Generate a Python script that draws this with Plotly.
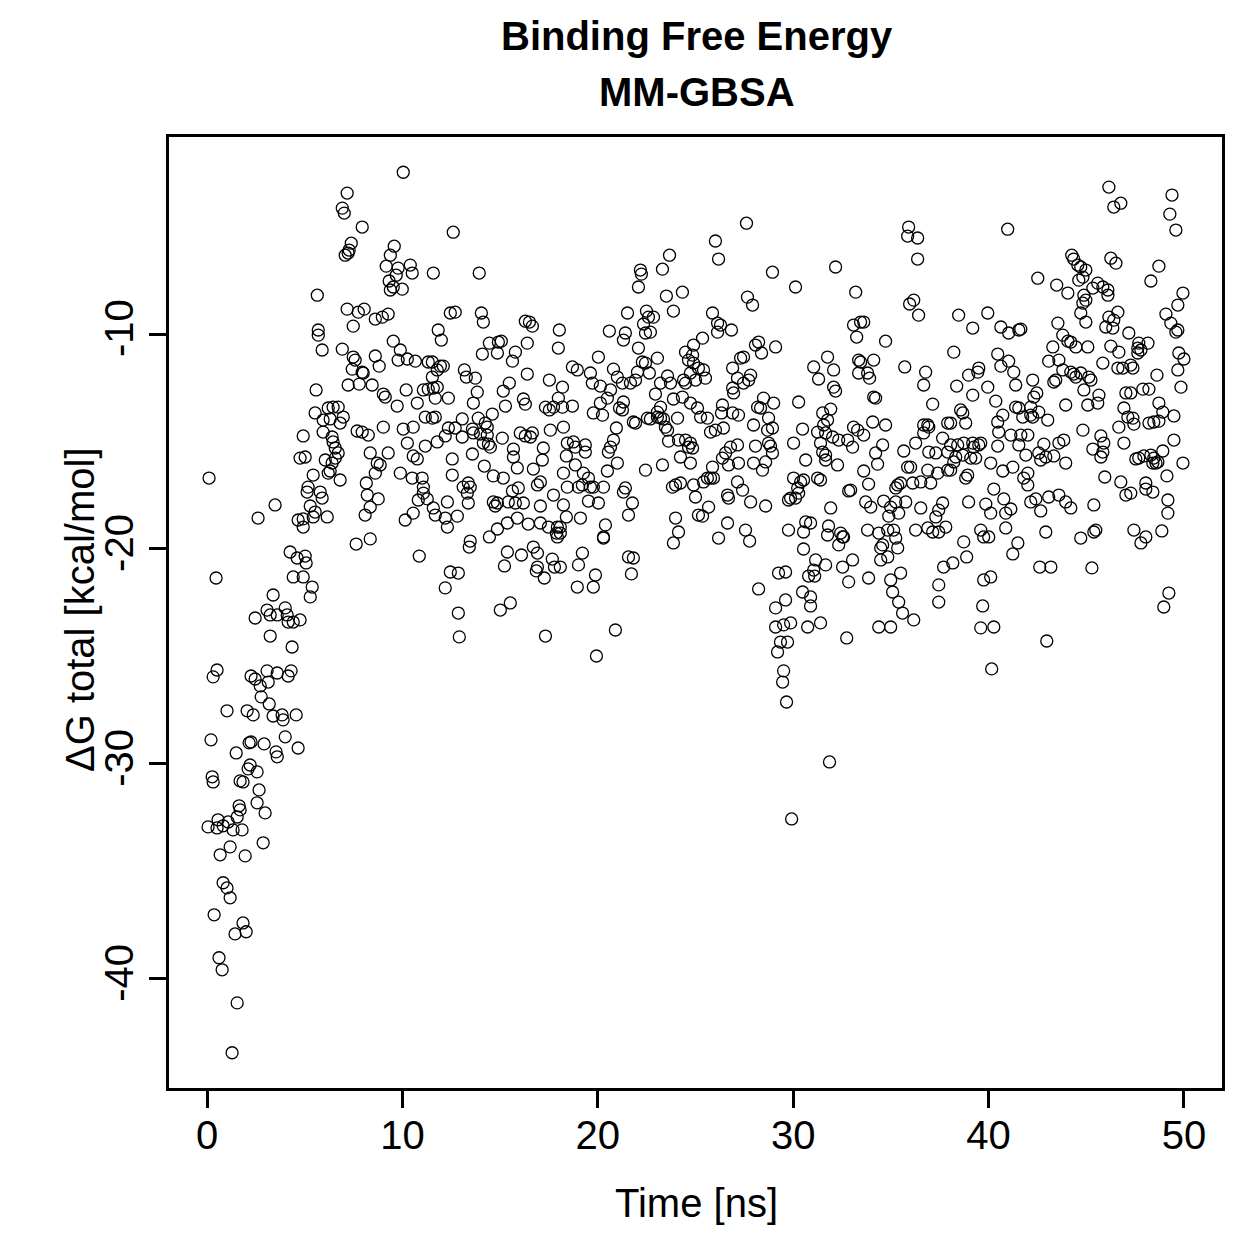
import plotly.graph_objects as go

# (time [ns], dG total [kcal/mol]), grouped by time window
seg_0_5 = [
    (2.46,-23.21),(3.07,-22.84),(3.23,-23.07),(3.59,-23.07),(4.00,-22.74),(4.10,-23.07),(4.15,-23.40),(4.41,-23.40),(3.23,-24.05),(4.35,-24.56),
    (0.51,-25.63),(0.31,-25.95),(2.25,-25.91),(2.46,-26.05),(3.07,-25.67),(3.59,-25.77),(4.30,-25.67),(4.15,-25.91),(3.13,-26.19),(2.72,-26.37),
    (2.77,-26.88),(3.18,-27.21),(3.38,-27.77),(3.84,-27.72),(3.89,-27.95),(4.56,-27.72),(1.02,-27.53),(2.05,-27.53),(2.36,-27.72),(0.20,-28.88),
    (1.49,-29.49),(2.15,-29.02),(2.25,-28.98),(2.92,-29.07),(3.53,-29.44),(3.59,-29.67),(4.00,-28.74),(4.66,-29.26),(0.26,-30.60),(0.31,-30.84),
    (1.69,-30.79),(1.84,-30.84),(2.20,-30.05),(2.10,-30.23),(2.56,-30.37),(2.66,-31.21),(2.56,-31.81),(2.97,-32.28),(1.64,-31.95),(1.69,-32.14),
    (1.54,-32.47),(0.56,-32.60),(0.05,-32.93),(0.51,-32.98),(0.82,-32.88),(1.08,-32.70),(1.33,-33.07),(1.79,-33.07),(0.67,-34.23),(1.18,-33.86),
    (1.95,-34.28),(2.87,-33.67),(0.82,-35.53),(1.02,-35.77),(1.18,-36.23),(0.36,-37.02),(1.84,-37.40),(2.00,-37.81),(1.43,-37.91),(0.61,-39.02),
    (0.77,-39.58),(1.54,-41.12),(1.28,-43.44),
    (0.10,-16.70),(3.48,-17.95),(2.61,-18.56),(4.66,-18.65),(4.25,-20.14),(4.61,-20.42),(4.41,-21.30),(3.38,-22.14),(0.46,-21.35),
]

seg_5_11 = [
    (10.04,-2.47),(7.17,-3.44),(6.92,-4.14),(7.02,-4.37),(7.94,-5.02),(7.38,-5.77),(7.27,-6.09),(7.07,-6.33),(7.22,-6.23),(9.58,-5.91),
    (9.38,-6.33),(9.17,-6.84),(9.78,-6.93),(10.40,-6.79),(10.50,-7.16),(9.68,-7.26),(9.32,-7.53),(9.53,-7.81),(9.38,-7.95),(9.99,-7.91),
    (5.64,-8.19),(7.17,-8.84),(7.74,-8.98),(8.04,-8.84),(7.48,-9.63),(8.61,-9.30),(8.97,-9.21),(9.27,-9.07),(5.69,-9.81),(5.69,-10.05),
    (5.89,-10.74),(6.92,-10.70),(7.48,-11.07),(7.58,-11.21),(9.53,-10.33),(9.89,-10.74),(9.78,-11.21),(10.25,-11.16),(10.66,-11.26),(11.32,-11.30),
    (8.61,-11.02),(8.81,-11.49),(7.43,-11.63),(7.94,-11.77),(7.99,-11.81),(7.22,-12.37),(7.79,-12.33),(8.45,-12.37),(9.02,-12.79),(9.12,-12.93),
    (9.73,-13.35),(5.58,-12.60),(10.19,-12.60),(10.76,-13.21),(11.07,-12.60),(11.32,-12.56),(6.20,-13.44),(6.45,-13.40),(6.71,-13.40),(5.53,-13.67),
    (5.94,-14.00),(6.30,-13.95),(6.97,-13.86),(6.81,-14.14),(11.17,-13.86),(9.02,-14.33),(7.68,-14.51),(7.94,-14.56),(8.25,-14.70),(10.04,-14.42),
    (10.55,-14.33),(4.92,-14.74),(5.94,-14.56),(6.40,-14.79),(6.45,-15.02),(6.56,-15.30),(6.71,-15.53),(6.56,-15.77),(10.25,-15.07),(11.17,-15.21),
    (8.35,-15.53),(9.27,-15.53),(5.02,-15.72),(4.76,-15.77),(6.05,-15.86),(6.40,-16.00),(6.30,-16.37),(6.20,-16.47),(8.71,-16.00),(8.86,-16.09),
    (10.55,-15.67),(10.76,-15.81),(8.61,-16.47),(8.15,-16.93),(8.20,-17.49),(8.35,-18.05),(8.09,-18.42),(8.76,-17.67),(6.81,-16.79),(5.43,-16.56),
    (5.17,-17.12),(5.12,-17.35),(5.79,-17.35),(5.89,-17.63),(5.28,-18.00),(5.53,-18.28),(5.43,-18.51),(6.15,-18.51),(4.92,-18.60),(4.92,-18.98),
    (9.89,-16.47),(10.50,-16.70),(11.01,-16.70),(11.07,-17.12),(11.07,-17.40),(10.81,-17.72),(11.27,-17.67),(10.55,-18.33),(10.14,-18.65),(7.63,-19.77),
    (8.35,-19.53),(10.86,-20.33),(5.02,-20.33),(5.07,-20.65),(4.92,-21.30),(5.38,-21.77),(5.28,-22.23),(4.76,-23.30),
]

seg_11_18 = [
    (12.60,-5.26),(11.58,-7.16),(13.93,-7.16),(12.45,-9.02),(12.70,-8.98),(14.04,-9.02),(14.14,-9.44),(16.29,-9.40),(16.50,-9.44),(16.65,-9.63),
    (18.03,-9.81),(17.98,-10.65),(11.83,-9.81),(11.99,-10.28),(14.45,-10.42),(14.91,-10.37),(15.06,-10.33),(14.86,-10.88),(14.09,-10.93),(15.78,-10.84),
    (15.63,-11.26),(16.39,-10.42),(11.53,-11.30),(11.94,-11.49),(12.09,-11.49),(11.78,-11.67),(13.17,-11.67),(13.27,-12.00),(13.73,-12.05),(16.39,-11.86),
    (17.52,-12.14),(18.19,-12.47),(17.98,-12.98),(18.19,-13.40),(17.32,-13.40),(17.52,-13.53),(17.73,-13.40),(11.53,-12.00),(11.58,-12.51),(11.78,-12.47),
    (11.68,-12.98),(12.35,-12.98),(13.83,-12.70),(13.63,-13.21),(15.47,-12.28),(15.16,-12.65),(15.27,-13.35),(16.19,-13.02),(16.29,-13.26),(14.60,-13.72),
    (13.06,-13.95),(13.88,-13.91),(14.24,-14.14),(14.34,-14.33),(11.53,-13.91),(11.68,-13.86),(18.24,-14.33),(17.57,-14.47),(12.35,-14.37),(12.70,-14.37),
    (13.06,-14.79),(13.58,-14.42),(13.99,-14.65),(13.63,-14.60),(14.34,-14.70),(14.40,-15.12),(14.50,-15.26),(14.14,-15.07),(15.11,-14.84),(16.03,-14.60),
    (16.29,-14.74),(16.55,-14.79),(16.65,-14.60),(11.78,-15.02),(12.19,-14.74),(15.68,-15.35),(15.68,-15.72),(15.88,-16.23),(17.21,-15.30),(17.16,-15.86),
    (18.44,-15.07),(18.39,-15.67),(12.55,-15.81),(12.55,-16.56),(13.58,-15.58),(14.19,-16.14),(14.65,-16.60),(15.16,-16.70),(16.70,-16.28),(18.24,-16.47),
    (17.06,-16.88),(16.91,-17.02),(13.11,-17.12),(13.37,-16.93),(13.47,-17.12),(13.32,-17.40),(13.37,-17.86),(15.63,-17.30),(15.93,-17.16),(17.73,-17.49),
    (18.44,-17.12),(12.30,-17.81),(11.58,-18.09),(11.68,-18.42),(14.65,-17.81),(14.75,-18.00),(14.86,-17.86),(15.42,-17.81),(15.78,-17.86),(16.19,-17.86),
    (17.06,-18.00),(18.24,-17.95),(18.39,-18.51),(12.81,-18.47),(12.19,-18.56),(12.30,-18.98),(15.88,-18.56),(15.37,-18.79),(14.86,-19.07),(14.45,-19.44),
    (16.44,-18.84),(17.06,-18.79),(17.47,-18.98),(17.93,-18.98),(17.88,-19.26),(17.93,-19.44),(13.47,-19.63),(13.42,-19.91),(15.37,-20.14),(16.09,-20.28),
    (15.22,-20.79),(16.70,-19.91),(16.91,-20.19),(16.91,-20.84),(16.85,-21.02),(17.26,-21.35),(17.67,-20.47),(17.78,-20.84),(12.45,-21.07),(12.86,-21.12),
    (12.19,-21.81),(12.86,-22.98),(15.01,-22.84),(15.52,-22.51),(12.91,-24.09),(17.32,-24.05),
]

seg_18_25 = [
    (23.67,-6.33),(22.18,-7.02),(22.23,-7.21),(22.08,-7.81),(23.31,-6.98),(23.51,-8.23),(24.33,-8.05),(23.87,-8.93),(21.52,-9.02),(22.49,-8.93),
    (22.85,-9.21),(22.59,-9.21),(22.34,-9.53),(22.44,-9.95),(22.69,-9.91),(20.59,-9.86),(21.31,-10.28),(21.41,-9.95),(22.08,-10.65),(20.03,-11.07),
    (24.49,-10.84),(24.64,-11.21),(24.85,-10.98),(18.70,-11.53),(18.95,-11.67),(19.62,-11.81),(19.72,-12.28),(20.13,-12.42),(20.80,-11.63),(21.00,-12.00),
    (21.26,-12.28),(22.28,-11.30),(22.44,-11.35),(23.05,-11.12),(22.64,-11.81),(22.03,-11.77),(21.93,-12.14),(21.67,-12.28),(23.57,-11.95),(23.72,-12.28),
    (23.21,-12.28),(24.39,-12.14),(24.49,-12.28),(22.95,-12.79),(20.65,-12.60),(20.49,-12.98),(20.13,-13.21),(19.77,-13.67),(20.24,-13.77),(21.31,-13.16),
    (21.26,-13.53),(21.11,-13.44),(23.87,-13.02),(24.33,-12.93),(18.70,-13.35),(23.21,-13.40),(23.05,-13.63),(23.05,-13.86),(23.21,-13.91),(23.36,-13.95),
    (22.69,-13.95),(22.54,-13.91),(23.46,-14.33),(23.57,-14.47),(24.08,-13.91),(21.82,-14.09),(21.93,-14.14),(20.95,-14.37),(20.80,-14.93),(20.65,-15.26),
    (20.54,-15.49),(23.62,-14.98),(24.13,-14.93),(24.49,-14.93),(24.64,-15.26),(24.23,-15.72),(18.75,-15.02),(18.85,-15.26),(19.36,-15.16),(19.36,-15.49),
    (18.85,-16.09),(21.00,-16.00),(20.49,-16.37),(22.44,-16.33),(23.31,-16.09),(19.26,-16.47),(19.52,-16.70),(19.21,-17.02),(19.62,-17.12),(19.77,-17.12),
    (20.29,-17.12),(19.01,-17.12),(23.82,-17.12),(23.98,-17.02),(24.23,-16.93),(21.41,-17.16),(21.31,-17.35),(21.77,-17.86),(21.57,-18.42),(19.52,-17.77),
    (20.03,-17.86),(19.11,-18.56),(18.08,-18.98),(18.08,-19.26),(23.98,-18.56),(24.13,-19.21),(23.87,-19.72),(20.39,-18.88),(20.29,-19.44),(20.29,-19.49),
    (25.15,-18.42),(19.21,-20.19),(19.01,-20.74),(21.57,-20.37),(21.82,-20.42),(21.72,-21.16),(19.88,-21.21),(19.77,-21.77),(18.95,-21.77),(18.08,-20.84),
    (20.90,-23.77),(19.93,-24.98),
]

seg_25_32 = [
    (27.61,-4.84),(26.02,-5.67),(26.18,-6.51),(28.94,-7.12),(30.12,-7.81),(27.66,-8.28),(27.92,-8.65),(25.87,-9.02),(26.13,-9.49),(26.28,-9.58),
    (26.13,-9.91),(26.84,-9.81),(25.36,-10.19),(24.90,-10.51),(28.07,-10.51),(28.23,-10.37),(28.38,-10.88),(29.10,-10.60),(27.31,-11.12),(27.46,-11.07),
    (26.90,-11.58),(24.90,-11.35),(25.15,-11.58),(25.41,-11.67),(25.51,-12.05),(25.00,-12.14),(24.74,-11.81),(27.82,-11.91),(27.72,-12.14),(27.46,-12.28),
    (27.15,-12.05),(26.90,-12.51),(26.95,-12.74),(31.05,-11.53),(31.30,-12.09),(28.48,-12.98),(29.00,-13.21),(28.18,-13.40),(28.33,-13.44),(30.28,-13.16),
    (25.10,-13.44),(25.26,-13.86),(25.61,-13.91),(26.38,-13.30),(26.33,-13.67),(26.90,-13.67),(27.20,-13.77),(24.74,-13.21),(28.74,-13.91),(28.69,-14.47),
    (28.94,-14.37),(27.97,-14.23),(25.77,-14.56),(26.02,-14.47),(26.43,-14.37),(30.48,-14.42),(31.25,-14.56),(31.76,-14.00),(24.74,-15.07),(24.85,-15.30),
    (28.74,-15.07),(28.84,-15.21),(28.94,-15.53),(28.59,-15.95),(28.43,-16.33),(28.07,-15.21),(27.97,-16.00),(27.15,-15.16),(26.79,-15.26),(26.54,-15.53),
    (26.38,-15.77),(26.69,-16.09),(27.20,-16.00),(30.02,-15.07),(30.64,-15.86),(31.51,-15.49),(24.74,-16.00),(24.90,-17.02),(25.00,-17.58),(25.87,-16.19),
    (25.61,-16.70),(25.41,-16.88),(25.77,-16.70),(25.92,-16.70),(27.15,-16.88),(27.41,-17.26),(26.64,-17.49),(26.69,-17.63),(27.82,-17.81),(28.59,-18.00),
    (30.02,-16.70),(30.38,-16.88),(30.53,-16.79),(30.23,-17.16),(30.28,-17.40),(29.87,-17.63),(29.76,-17.72),(30.12,-17.63),(31.25,-16.70),(25.67,-18.05),
    (25.36,-18.47),(26.64,-18.79),(26.18,-19.49),(27.56,-19.12),(27.77,-19.63),(29.76,-19.12),(30.64,-18.74),(30.89,-18.79),(30.53,-19.21),(30.53,-20.00),
    (31.76,-19.35),(31.15,-20.51),(31.05,-20.98),(29.25,-21.12),(29.61,-21.07),(30.79,-21.26),(31.10,-21.26),(28.23,-21.86),(30.48,-22.00),(30.89,-22.23),
    (30.89,-22.65),(29.61,-22.37),(29.10,-22.74),(29.10,-23.63),(29.51,-23.53),(29.87,-23.44),(30.74,-23.63),(31.40,-23.44),(29.35,-24.33),(29.71,-24.33),
    (29.20,-24.79),(29.51,-25.67),(29.46,-26.19),(29.66,-27.12),(31.86,-29.91),(29.92,-32.56),(32.74,-24.14),
]

seg_32_38 = [
    (35.91,-5.02),(35.86,-5.44),(36.37,-5.53),(36.37,-6.51),(32.17,-6.88),(33.20,-8.05),(35.96,-8.60),(36.17,-8.42),(36.42,-9.12),(33.09,-9.58),
    (33.45,-9.44),(33.61,-9.44),(33.25,-10.14),(34.73,-10.33),(31.76,-11.07),(32.07,-11.67),(33.35,-11.21),(33.45,-11.30),(34.12,-11.21),(33.35,-11.81),
    (33.81,-11.81),(33.91,-12.05),(34.12,-12.93),(34.22,-12.98),(35.71,-11.53),(36.78,-11.77),(36.68,-12.37),(32.07,-12.47),(32.17,-12.65),(37.14,-13.26),
    (31.92,-13.49),(31.51,-13.67),(31.56,-14.23),(31.66,-14.60),(34.07,-14.09),(34.73,-14.23),(33.09,-14.33),(33.30,-14.47),(33.61,-14.70),(32.79,-14.93),
    (33.04,-15.26),(32.02,-14.79),(32.33,-14.93),(36.68,-14.23),(36.89,-14.23),(36.94,-14.33),(36.68,-14.60),(37.91,-14.14),(34.58,-15.16),(34.22,-15.53),
    (34.32,-16.05),(31.40,-15.07),(31.66,-15.63),(31.66,-15.86),(32.27,-16.09),(35.66,-15.44),(36.27,-15.07),(36.94,-15.49),(37.30,-15.53),(37.65,-14.84),
    (37.91,-15.49),(33.61,-16.37),(33.86,-16.98),(32.94,-17.26),(32.84,-17.30),(35.86,-16.19),(36.01,-16.19),(36.89,-16.33),(37.40,-16.47),(37.91,-16.33),
    (36.12,-16.93),(36.53,-16.88),(37.04,-16.93),(35.35,-17.02),(35.50,-16.93),(35.25,-17.16),(31.40,-16.79),(33.71,-17.81),(33.97,-18.05),(34.63,-17.77),
    (34.99,-18.05),(34.89,-18.47),(35.40,-18.33),(35.25,-17.81),(35.76,-17.81),(31.92,-18.09),(36.53,-18.09),(37.30,-18.51),(37.45,-18.19),(37.65,-17.86),
    (37.81,-18.98),(36.89,-19.02),(37.14,-19.21),(37.45,-19.21),(31.81,-18.93),(32.43,-19.26),(32.53,-19.44),(32.58,-19.44),(32.33,-19.81),(33.81,-19.12),
    (34.38,-19.26),(34.48,-19.95),(34.58,-19.81),(34.84,-19.12),(35.14,-19.12),(35.25,-19.49),(35.35,-19.95),(34.84,-20.37),(34.48,-20.51),(36.27,-19.12),
    (31.66,-20.74),(32.53,-20.84),(33.04,-20.51),(32.84,-21.53),(33.86,-21.35),(34.99,-21.44),(35.09,-22.00),(35.50,-21.12),(35.40,-22.47),(35.60,-22.98),
    (36.17,-23.30),(37.45,-21.67),(37.45,-22.47),(37.70,-20.84),(34.38,-23.63),(34.99,-23.63),
]

seg_38_45 = [
    (40.98,-5.12),(42.52,-7.40),(43.49,-7.72),(44.06,-8.09),(44.26,-6.33),(44.36,-6.51),(44.57,-6.79),(44.62,-7.49),(38.47,-9.12),(39.96,-9.02),
    (39.19,-9.72),(40.63,-9.67),(41.03,-9.95),(41.65,-9.77),(41.55,-9.81),(43.55,-9.49),(43.80,-10.05),(44.06,-10.33),(44.21,-10.37),(44.47,-10.60),
    (43.29,-10.60),(43.08,-11.26),(43.60,-11.21),(43.80,-11.67),(43.44,-12.14),(43.34,-12.23),(44.21,-11.77),(44.36,-11.86),(44.47,-12.00),(40.47,-10.93),
    (40.63,-11.49),(41.03,-11.26),(41.29,-11.77),(41.39,-12.37),(38.22,-10.84),(38.98,-11.91),(39.45,-11.77),(39.50,-11.58),(38.37,-12.42),(39.19,-12.84),
    (39.96,-12.47),(42.26,-12.14),(42.47,-12.74),(42.32,-12.93),(42.16,-13.40),(40.37,-13.12),(43.95,-13.30),(38.57,-13.53),(38.68,-13.67),(38.83,-14.14),
    (38.06,-14.14),(41.39,-13.40),(41.55,-13.44),(41.75,-13.86),(40.73,-13.77),(40.47,-14.09),(40.52,-14.56),(42.16,-13.77),(42.26,-13.86),(42.57,-13.63),
    (43.03,-14.00),(41.14,-14.70),(41.65,-14.70),(42.01,-14.70),(38.06,-15.16),(38.42,-15.16),(38.73,-15.07),(39.19,-15.07),(39.50,-15.16),(39.60,-15.07),
    (38.32,-15.72),(38.22,-15.95),(38.68,-15.63),(39.09,-15.77),(39.34,-15.77),(39.24,-15.26),(40.47,-15.21),(41.55,-15.16),(41.91,-15.63),(40.11,-16.00),
    (40.73,-16.37),(41.24,-16.19),(42.01,-16.47),(41.80,-16.70),(42.01,-17.02),(42.57,-15.53),(42.83,-15.12),(42.93,-15.72),(43.34,-15.67),(43.60,-15.07),
    (43.85,-14.93),(43.95,-16.00),(42.67,-15.86),(38.06,-16.33),(38.83,-16.70),(38.93,-16.56),(40.27,-17.21),(40.78,-17.67),(38.98,-17.81),(39.86,-17.91),
    (40.11,-18.33),(40.88,-18.33),(41.14,-18.14),(40.88,-19.02),(42.16,-17.81),(42.42,-17.67),(42.67,-18.23),(43.08,-17.58),(43.60,-17.49),(43.95,-17.81),
    (44.21,-18.09),(39.60,-19.12),(39.75,-19.44),(40.01,-19.44),(38.73,-19.67),(38.88,-20.37),(38.17,-20.65),(41.50,-19.72),(41.24,-20.23),(42.93,-19.21),
    (42.62,-20.84),(43.19,-20.84),(39.75,-21.44),(40.11,-21.30),(39.70,-22.65),(39.60,-23.67),(40.27,-23.63),(40.16,-25.58),(42.98,-24.28),
]

seg_45_50 = [
    (46.16,-3.16),(46.41,-4.09),(46.77,-3.91),(49.39,-3.53),(49.28,-4.42),(49.59,-5.16),(46.26,-6.47),(46.52,-6.70),(48.72,-6.84),(48.31,-7.53),
    (44.72,-6.88),(44.98,-7.02),(44.83,-7.35),(45.59,-7.63),(45.34,-7.86),(45.85,-7.81),(46.11,-7.95),(46.11,-8.19),(44.88,-8.19),(44.98,-8.42),
    (44.83,-8.56),(44.98,-9.44),(44.72,-9.02),(49.95,-8.09),(49.69,-8.65),(49.08,-9.07),(49.33,-9.49),(49.59,-9.91),(49.69,-9.81),(46.16,-9.21),
    (46.62,-8.98),(46.41,-9.35),(46.00,-9.67),(46.36,-9.72),(47.18,-9.95),(45.08,-10.60),(46.26,-10.56),(46.67,-10.84),(47.69,-10.42),(48.16,-10.42),
    (47.64,-10.65),(47.80,-10.74),(47.64,-10.88),(49.74,-10.88),(50.00,-11.16),(49.69,-11.67),(45.85,-11.35),(46.62,-11.58),(46.87,-11.58),(47.28,-11.44),
    (47.39,-11.58),(48.62,-11.91),(44.72,-11.81),(45.13,-12.00),(45.24,-12.14),(44.88,-12.60),(45.08,-13.30),(45.59,-13.21),(45.65,-12.84),(49.85,-12.47),
    (47.03,-12.74),(47.28,-12.74),(47.90,-12.56),(48.21,-12.56),(46.93,-13.44),(47.13,-13.86),(47.39,-13.91),(47.44,-14.19),(46.67,-14.33),(48.72,-13.21),
    (48.92,-13.63),(49.49,-13.81),(48.21,-14.14),(48.46,-14.09),(48.72,-14.05),(44.83,-14.47),(45.75,-14.74),(45.90,-15.07),(45.34,-15.35),(45.85,-15.49),
    (45.75,-15.72),(46.93,-15.07),(49.49,-14.93),(48.92,-15.44),(49.95,-16.00),(47.54,-15.81),(47.69,-15.77),(47.95,-15.67),(48.31,-15.63),(48.46,-15.77),
    (48.57,-16.00),(48.41,-16.00),(48.67,-15.95),(49.13,-16.60),(45.95,-16.65),(46.77,-16.88),(47.03,-17.49),(47.28,-17.40),(48.05,-16.93),(48.05,-17.21),
    (48.41,-17.35),(49.18,-17.72),(49.18,-18.33),(45.39,-17.95),(45.49,-19.12),(45.39,-19.21),(44.72,-19.49),(47.44,-19.12),(48.05,-19.44),(47.80,-19.72),
    (48.87,-19.16),(45.29,-20.88),(49.23,-22.05),(48.97,-22.70),
]

x_ticks = [0, 10, 20, 30, 40, 50]
y_ticks = [-10, -20, -30, -40]
y_tick_labels = ["-10", "-20", "-30", "-40"]

points = seg_0_5 + seg_5_11 + seg_11_18 + seg_18_25 + seg_25_32 + seg_32_38 + seg_38_45 + seg_45_50
time_ns = [p[0] for p in points]
dg_total = [p[1] for p in points]

FONT = "Liberation Sans, Arial, Helvetica, sans-serif"

fig = go.Figure(
    go.Scatter(
        x=time_ns, y=dg_total, mode="markers",
        marker=dict(symbol="circle-open", size=12, color="black",
                    line=dict(width=1.3, color="black")),
        cliponaxis=False,
    )
)

axis_common = dict(
    showgrid=False, zeroline=False, showline=True, linewidth=3, linecolor="black",
    mirror=True, ticks="outside", ticklen=17, tickwidth=3, tickcolor="black",
    tickfont=dict(family=FONT, size=40, color="black"),
)

fig.update_layout(
    width=1259, height=1259,
    margin=dict(l=169, r=37, t=137, b=171),
    paper_bgcolor="white", plot_bgcolor="white",
    showlegend=False,
    font=dict(family=FONT, color="black"),
    xaxis=dict(range=[-1.95, 51.95], tickmode="array", tickvals=x_ticks,
               ticktext=[str(v) for v in x_ticks], ticklabelstandoff=-7, **axis_common),
    yaxis=dict(range=[-45.08, -0.83], tickmode="array", tickvals=y_ticks,
               ticktext=y_tick_labels, tickangle=-90, **axis_common),
    annotations=[
        dict(text="<b>Binding Free Energy</b>", xref="paper", yref="paper",
             x=0.5014, y=1.1057, xanchor="center", yanchor="middle", showarrow=False,
             font=dict(family=FONT, size=40, color="black")),
        dict(text="<b>MM-GBSA</b>", xref="paper", yref="paper",
             x=0.5014, y=1.0473, xanchor="center", yanchor="middle", showarrow=False,
             font=dict(family=FONT, size=40, color="black")),
        dict(text="Time [ns]", xref="paper", yref="paper",
             x=0.5005, y=-0.1209, xanchor="center", yanchor="middle", showarrow=False,
             font=dict(family=FONT, size=40, color="black")),
        dict(text="ΔG total [kcal/mol]", xref="paper", yref="paper",
             x=-0.0845, y=0.5026, xanchor="center", yanchor="middle", showarrow=False,
             textangle=-90, font=dict(family=FONT, size=40, color="black")),
    ],
)

fig.write_html("out.html")
